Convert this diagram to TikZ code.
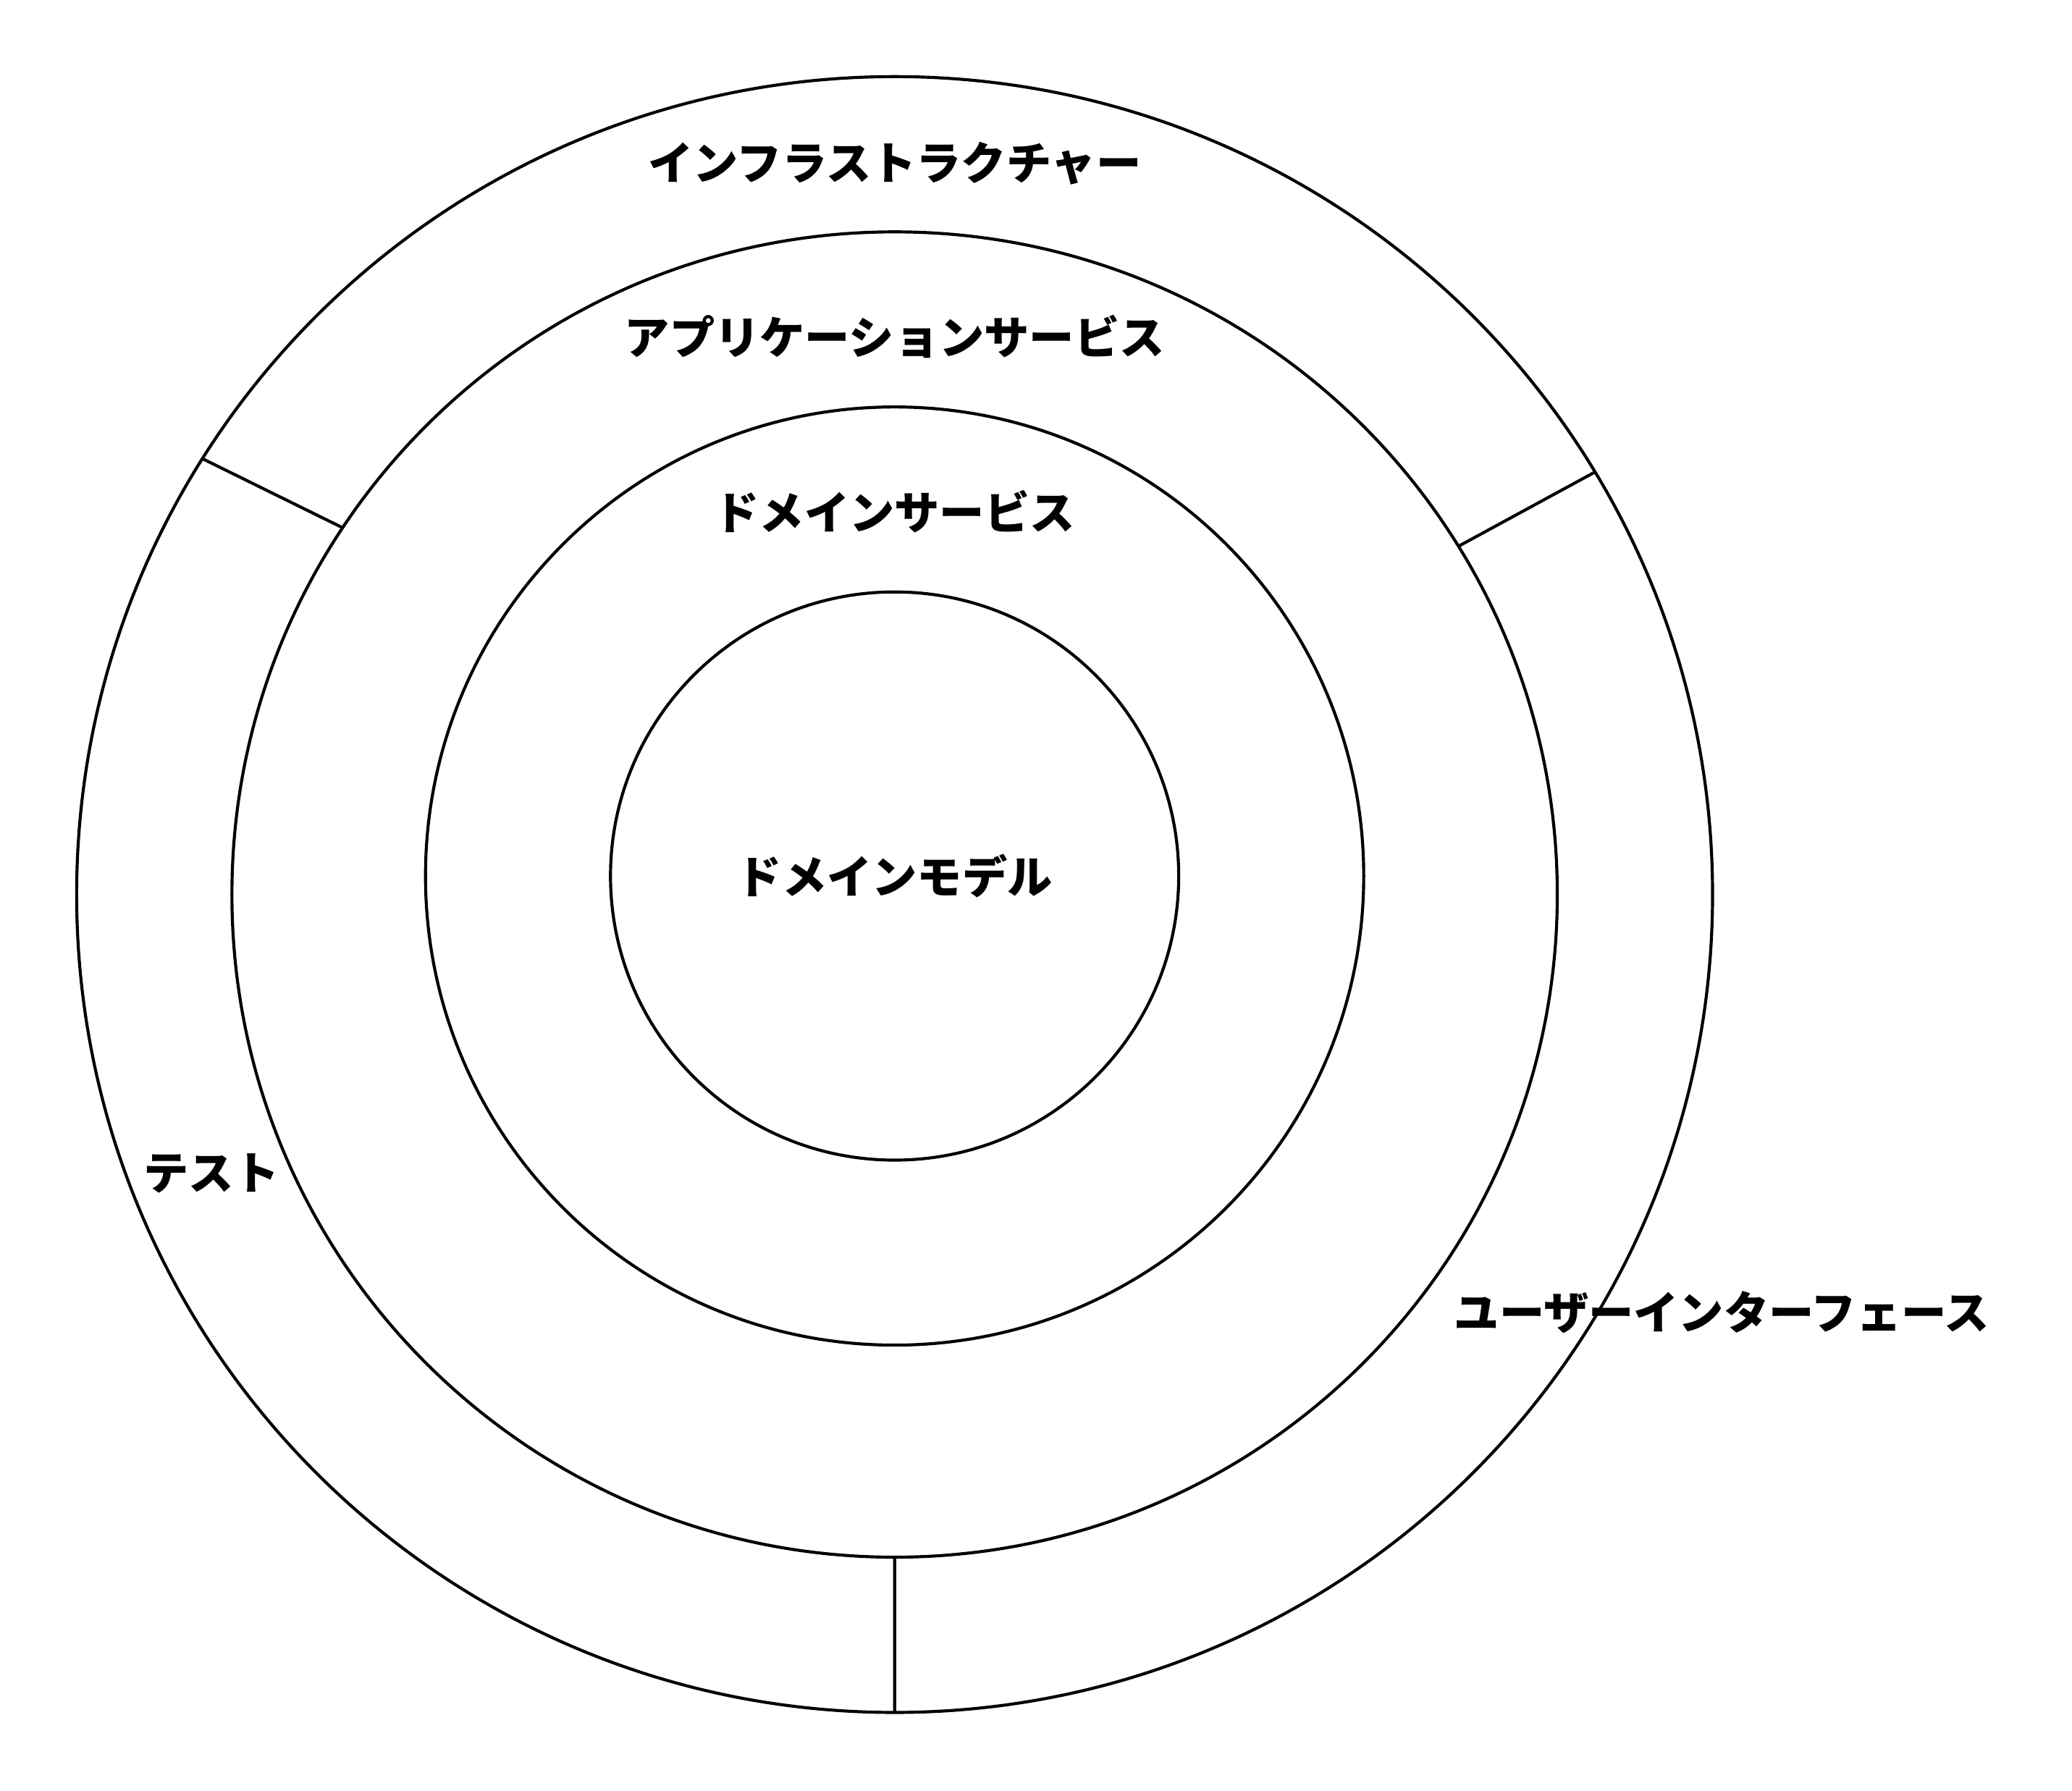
\documentclass[tikz,border=0pt]{standalone}
\usepackage{fontspec}
\setmainfont{Noto Sans CJK JP}
\begin{document}
\begin{tikzpicture}[x=0.01cm, y=0.01cm, line width=0.65pt,
    layer/.style = {font=\bfseries\fontsize{9.7}{12}\selectfont, inner sep=0pt}
  ]
    \useasboundingbox (0,0) rectangle (1568,1355);
    % define points
    \path
      (677,678) coordinate(O)
      (677,692) coordinate(C)
      (O)
      +(147.8:619) coordinate(TL1)
      +(146.4:502) coordinate(TL2)
      +(31.1:619) coordinate(TR1)
      +(31.7:502) coordinate(TR2)
      +(270:619) coordinate(B1)
      +(270:502) coordinate(B2)
    ;
    % rings
    \draw
      (O) circle[radius=619]
      (O) circle[radius=501.5]
      (C) circle[radius=355]
      (C) circle[radius=215]
    ;
    % draw lines
    \draw
      (TL1) -- (TL2)
      (TR1) -- (TR2)
      (B1) -- (B2)
    ;
    % labels
    \path[layer]
      (677,1231) node(infra){インフラストラクチャー}
      (677,1100) node(app){アプリケーションサービス}
      (677,968) node(dserv){ドメインサービス}
      (C) node(model){ドメインモデル}
      (160,467) node(test){テスト}
      (1303,362) node(ui){ユーザーインターフェース}
    ;
  \end{tikzpicture}
\end{document}
